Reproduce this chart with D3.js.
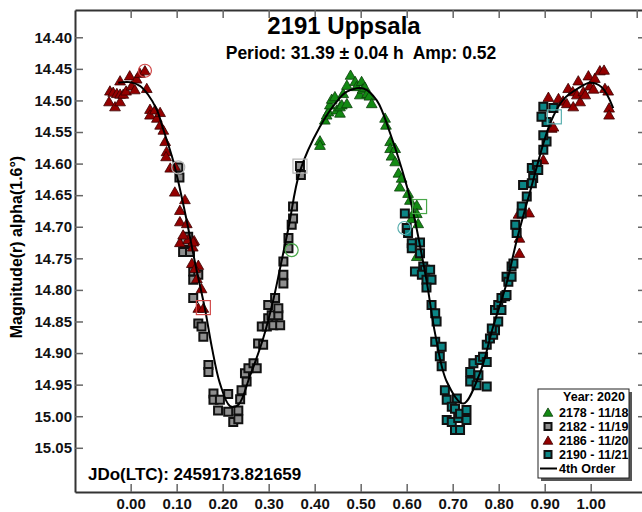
<!DOCTYPE html>
<html>
<head>
<meta charset="utf-8">
<script src="https://cdn.jsdelivr.net/npm/d3@7"></script>
<style>
  html, body { margin: 0; padding: 0; background: #fff; }
  svg { display: block; font-family: "Liberation Sans", Arial, sans-serif; font-weight: bold; }
  text { white-space: pre; }
</style>
</head>
<body>
<svg id="chart" width="642" height="512"></svg>
<script>
// Lightcurve of 2191 Uppsala, phased to P = 31.39 h. Each point is [phase, magnitude].
const s2178 = [[0.4115,14.564],[0.4115,14.571],[0.422,14.531],[0.426,14.523],[0.430,14.518],[0.433,14.507],[0.437,14.498],[0.444,14.494],[0.448,14.515],[0.455,14.520],[0.455,14.510],[0.459,14.507],[0.462,14.489],[0.470,14.505],[0.470,14.476],[0.478,14.460],[0.488,14.470],[0.491,14.478],[0.498,14.491],[0.502,14.470],[0.504,14.482],[0.509,14.479],[0.514,14.489],[0.519,14.493],[0.524,14.505],[0.553,14.528],[0.555,14.539],[0.564,14.565],[0.564,14.576],[0.575,14.576],[0.567,14.588],[0.575,14.597],[0.582,14.615],[0.589,14.623],[0.585,14.637],[0.603,14.647],[0.607,14.658],[0.622,14.666],[0.622,14.679],[0.625,14.695],[0.611,14.687],[0.614,14.679],[0.622,14.747]];

const s2182 = [[0.1035,14.606],[0.106,14.622],[0.125,14.716],[0.118,14.724],[0.114,14.740],[0.129,14.740],[0.136,14.771],[0.147,14.776],[0.136,14.784],[0.136,14.813],[0.147,14.853],[0.154,14.858],[0.158,14.874],[0.169,14.919],[0.169,14.930],[0.180,14.964],[0.180,14.974],[0.194,14.974],[0.190,14.991],[0.212,14.965],[0.212,14.993],[0.223,15.009],[0.234,14.991],[0.234,15.005],[0.238,14.973],[0.241,14.959],[0.252,14.945],[0.2485,14.932],[0.256,14.924],[0.267,14.916],[0.274,14.924],[0.277,14.885],[0.288,14.887],[0.285,14.858],[0.296,14.858],[0.299,14.845],[0.310,14.856],[0.325,14.856],[0.3065,14.840],[0.321,14.840],[0.299,14.824],[0.314,14.813],[0.321,14.829],[0.332,14.790],[0.332,14.776],[0.332,14.755],[0.343,14.734],[0.343,14.718],[0.350,14.697],[0.353,14.687],[0.353,14.668],[0.368,14.604],[0.370,14.618]];

const s2186 = [[-0.047,14.502],[-0.045,14.485],[-0.038,14.487],[-0.034,14.510],[-0.030,14.489],[-0.023,14.490],[-0.023,14.502],[-0.023,14.469],[-0.016,14.490],[-0.010,14.485],[-0.002,14.461],[0.002,14.477],[0.009,14.483],[0.013,14.466],[0.020,14.457],[0.031,14.453],[0.035,14.481],[0.042,14.514],[0.042,14.523],[0.053,14.515],[0.057,14.528],[0.064,14.519],[0.064,14.539],[0.071,14.547],[0.075,14.565],[0.078,14.581],[0.077,14.589],[0.086,14.607],[0.096,14.604],[0.096,14.645],[0.118,14.657],[0.107,14.674],[0.107,14.692],[0.122,14.695],[0.107,14.725],[0.125,14.720],[0.138,14.722],[0.135,14.732],[0.114,14.713],[0.136,14.724],[0.133,14.758],[0.147,14.761],[0.140,14.766],[0.144,14.782],[0.154,14.798],[0.147,14.829],[0.158,14.829],
  [0.843,14.680],[0.866,14.678],[0.845,14.718],[0.845,14.742],[0.897,14.594],[0.915,14.544],[0.919,14.542],[0.908,14.495],[0.930,14.497],[0.940,14.501],[0.948,14.505],[0.951,14.481],[0.962,14.510],[0.961,14.486],[0.970,14.491],[0.973,14.469],[0.977,14.502],[0.984,14.486],[0.988,14.491],[0.995,14.461],[0.998,14.477],[1.006,14.482],[1.009,14.465],[1.020,14.453],[1.029,14.452],[1.031,14.481],[1.038,14.485],[1.040,14.512],[1.040,14.523]];

const s2190 = [[0.596,14.679],[0.600,14.702],[0.603,14.710],[0.611,14.726],[0.629,14.725],[0.611,14.734],[0.629,14.742],[0.618,14.771],[0.636,14.763],[0.640,14.768],[0.651,14.768],[0.633,14.776],[0.643,14.784],[0.654,14.784],[0.643,14.796],[0.654,14.824],[0.662,14.837],[0.665,14.850],[0.662,14.882],[0.676,14.890],[0.672,14.905],[0.676,14.921],[0.683,14.959],[0.687,14.974],[0.709,14.972],[0.698,14.985],[0.705,14.988],[0.687,15.006],[0.698,15.009],[0.712,15.003],[0.705,15.022],[0.716,15.022],[0.716,14.996],[0.730,14.990],[0.730,15.006],[0.738,14.945],[0.738,14.930],[0.745,14.916],[0.756,14.935],[0.752,14.951],[0.774,14.953],[0.759,14.911],[0.766,14.906],[0.774,14.914],[0.774,14.887],[0.781,14.877],[0.788,14.871],[0.792,14.864],[0.785,14.861],[0.799,14.850],[0.792,14.832],[0.799,14.824],[0.806,14.832],[0.806,14.813],[0.814,14.810],[0.817,14.808],[0.817,14.779],[0.821,14.787],[0.828,14.779],[0.828,14.763],[0.832,14.758],[0.836,14.697],[0.839,14.710],[0.850,14.668],[0.850,14.679],[0.853,14.634],[0.861,14.652],[0.872,14.607],[0.883,14.602],[0.886,14.610],[0.875,14.623],[0.872,14.631],[0.897,14.578],[0.904,14.565],[0.897,14.555],[0.904,14.534],[0.893,14.526],[0.897,14.510],[0.919,14.512]];

// 4th order Fourier fit, sampled along the phase axis
const fitCurve = [[-0.027,14.472],[-0.002,14.471],[0.020,14.477],[0.038,14.491],[0.057,14.515],[0.071,14.546],[0.093,14.597],[0.118,14.677],[0.140,14.757],[0.162,14.832],[0.176,14.889],[0.194,14.948],[0.216,14.984],[0.234,14.982],[0.259,14.937],[0.288,14.877],[0.310,14.816],[0.325,14.765],[0.343,14.702],[0.368,14.612],[0.411,14.542],[0.451,14.499],[0.470,14.486],[0.506,14.481],[0.535,14.500],[0.564,14.552],[0.600,14.635],[0.612,14.670],[0.643,14.785],[0.662,14.870],[0.687,14.945],[0.723,14.980],[0.759,14.932],[0.788,14.858],[0.817,14.790],[0.839,14.722],[0.868,14.645],[0.912,14.536],[0.940,14.499],[0.977,14.479],[0.998,14.472],[1.024,14.479],[1.049,14.512]];

// First / last observation of each night, ringed
const markedPoints = [
  {night: "2186", shape: "circle", p: 0.031, m: 14.453},
  {night: "2186", shape: "square", p: 0.158, m: 14.828},
  {night: "2182", shape: "circle", p: 0.1035, m: 14.606},
  {night: "2182", shape: "square", p: 0.368, m: 14.604},
  {night: "2178", shape: "circle", p: 0.350, m: 14.737},
  {night: "2178", shape: "square", p: 0.628, m: 14.668},
  {night: "2190", shape: "circle", p: 0.595, m: 14.702},
  {night: "2190", shape: "square", p: 0.921, m: 14.526}
];

const yTicks = [14.40,14.45,14.50,14.55,14.60,14.65,14.70,14.75,14.80,14.85,14.90,14.95,15.00,15.05];
const xTicks = [0.0,0.1,0.2,0.3,0.4,0.5,0.6,0.7,0.8,0.9,1.0];
const legendTitle = "Year: 2020";
const legendLabels = ["2178 - 11/18","2182 - 11/19","2186 - 11/20","2190 - 11/21","4th Order"];

const styles = {
  "2178": {shape: d3.symbolTriangle, fill: "#138a13", stroke: "#0b3d0b", ring: "#4aa84a"},
  "2182": {shape: d3.symbolSquare,   fill: "#8e8e8e", stroke: "#111",    ring: "#b4b4b4"},
  "2186": {shape: d3.symbolTriangle, fill: "#940000", stroke: "#3a0000", ring: "#d04848"},
  "2190": {shape: d3.symbolSquare,   fill: "#0b8686", stroke: "#111",    ring: "#5cb0b0"}
};

const svg = d3.select("#chart");
const frameL = 75, frameR = 646, frameT = 10, frameB = 492;

const x = d3.scaleLinear().domain([-0.121, 1.1202]).range([frameL, frameR]);
const y = d3.scaleLinear().domain([14.3568, 15.120]).range([frameT, frameB]);

// Frame with inward ticks on all four sides
const axisStyle = g => {
  g.select(".domain").attr("stroke", "#333").attr("stroke-width", 2);
  g.selectAll(".tick line").attr("stroke", "#666").attr("stroke-width", 1.5);
  g.selectAll(".tick text").attr("fill", "#111").attr("font-size", 15).attr("font-weight", "bold")
    .attr("font-family", "'Liberation Sans', Arial, sans-serif");
};
svg.append("g").attr("transform", `translate(${frameL},0)`)
  .call(d3.axisLeft(y).tickValues(yTicks).tickFormat(d3.format(".2f")).tickSize(-8).tickSizeOuter(0).tickPadding(3))
  .call(axisStyle);
svg.append("g").attr("transform", `translate(${frameR},0)`)
  .call(d3.axisRight(y).tickValues(yTicks).tickFormat("").tickSize(-8).tickSizeOuter(0))
  .call(axisStyle);
svg.append("g").attr("transform", `translate(0,${frameB})`)
  .call(d3.axisBottom(x).tickValues(xTicks).tickFormat(d3.format(".2f")).tickSize(-8).tickSizeOuter(0).tickPadding(6))
  .call(axisStyle);
svg.append("g").attr("transform", `translate(0,${frameT})`)
  .call(d3.axisTop(x).tickValues(xTicks.concat([1.1])).tickFormat("").tickSize(-8).tickSizeOuter(0))
  .call(axisStyle);

// Observations
const plot = svg.append("g");
const drawNight = (data, key, size) => {
  const st = styles[key];
  const sym = d3.symbol().type(st.shape).size(size);
  const isSq = st.shape === d3.symbolSquare;
  plot.append("g").selectAll("path").data(data).join("path")
    .attr("d", sym)
    .attr("transform", d => `translate(${x(d[0])},${y(d[1]) + (isSq ? 0 : 1)})`)
    .attr("fill", st.fill)
    .attr("stroke", st.stroke)
    .attr("stroke-width", isSq ? 2 : 0.8);
};
drawNight(s2182, "2182", 64);
drawNight(s2178, "2178", 50);
drawNight(s2186, "2186", 50);
drawNight(s2190, "2190", 64);

// Fit curve
svg.append("path")
  .datum(fitCurve)
  .attr("fill", "none")
  .attr("stroke", "#000")
  .attr("stroke-width", 2)
  .attr("d", d3.line().x(d => x(d[0])).y(d => y(d[1])).curve(d3.curveCatmullRom.alpha(0.5)));

// Rings around first / last points
const rings = svg.append("g");
markedPoints.forEach(d => {
  const c = styles[d.night].ring;
  if (d.shape === "circle") {
    rings.append("circle").attr("cx", x(d.p)).attr("cy", y(d.m)).attr("r", 6.5)
      .attr("fill", "none").attr("stroke", c).attr("stroke-width", 1.2);
  } else {
    rings.append("rect").attr("x", x(d.p) - 7).attr("y", y(d.m) - 7).attr("width", 14).attr("height", 14)
      .attr("fill", "none").attr("stroke", c).attr("stroke-width", 1.2);
  }
});

// Titles
svg.append("text").attr("x", 344).attr("y", 34).attr("text-anchor", "middle")
  .attr("font-size", 24).attr("fill", "#000").text("2191 Uppsala");
svg.append("text").attr("x", 361).attr("y", 59).attr("text-anchor", "middle")
  .attr("font-size", 17.5).attr("fill", "#000").text("Period: 31.39 \u00b1 0.04 h  Amp: 0.52");
svg.append("text").attr("transform", "translate(22,247) rotate(-90)").attr("text-anchor", "middle")
  .attr("font-size", 16).attr("fill", "#000").text("Magnitude(r) alpha(1.6\u00b0)");
svg.append("text").attr("x", 88).attr("y", 480)
  .attr("font-size", 17).attr("fill", "#000").text("JDo(LTC): 2459173.821659");

// Legend
const lg = svg.append("g");
const lx = 538, ly = 389, lw = 91, lh = 89;
lg.append("rect").attr("x", lx + 3).attr("y", ly + 3).attr("width", lw).attr("height", lh).attr("fill", "#555");
lg.append("rect").attr("x", lx).attr("y", ly).attr("width", lw).attr("height", lh)
  .attr("fill", "#fff").attr("stroke", "#222").attr("stroke-width", 1);
lg.append("text").attr("x", 594).attr("y", 401).attr("text-anchor", "middle")
  .attr("font-size", 12.5).attr("fill", "#000").text(legendTitle);
const keys = ["2178", "2182", "2186", "2190"];
legendLabels.forEach((lab, i) => {
  const cy = 412.5 + i * 14;
  if (i < 4) {
    const st = styles[keys[i]];
    const isSq = st.shape === d3.symbolSquare;
    lg.append("path").attr("d", d3.symbol().type(st.shape).size(isSq ? 49 : 40)())
      .attr("transform", `translate(548,${cy + (isSq ? 0 : 1)})`)
      .attr("fill", st.fill).attr("stroke", st.stroke).attr("stroke-width", isSq ? 2 : 0.8);
  } else {
    lg.append("line").attr("x1", 540).attr("x2", 557).attr("y1", cy).attr("y2", cy)
      .attr("stroke", "#000").attr("stroke-width", 2);
  }
  lg.append("text").attr("x", 559).attr("y", cy + 4.5).attr("font-size", 12.5).attr("fill", "#000").text(lab);
});
</script>
</body>
</html>
